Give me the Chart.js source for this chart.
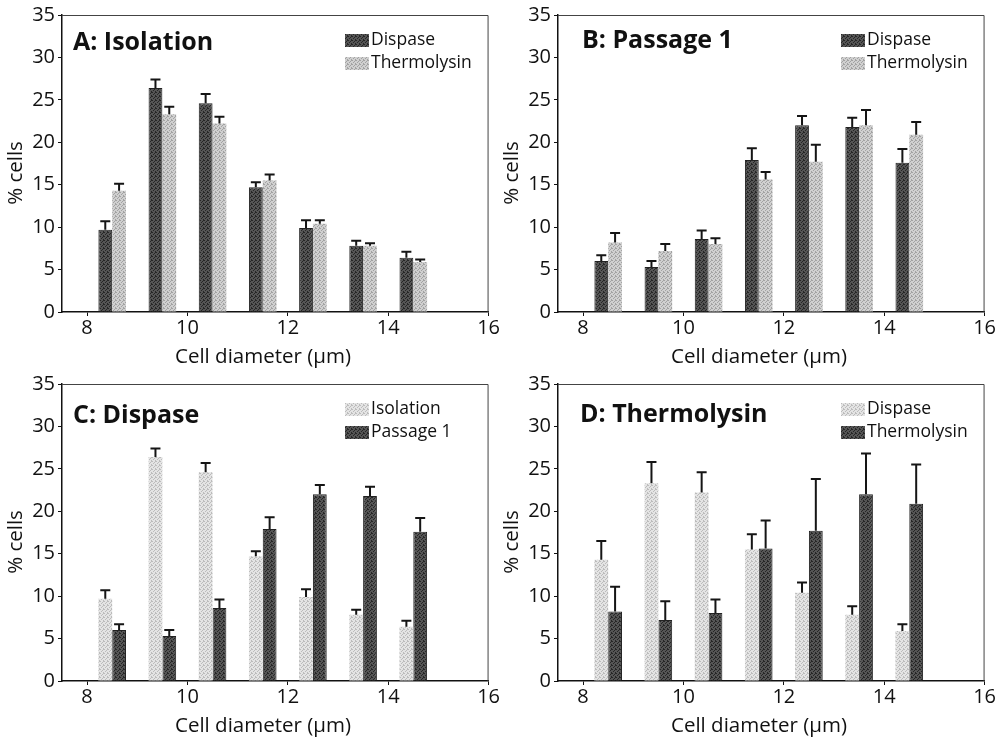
<!DOCTYPE html>
<html>
<head>
<meta charset="utf-8">
<script src="https://cdn.jsdelivr.net/npm/chart.js@4.4.1/dist/chart.umd.min.js"></script>
<style>
  html, body { margin: 0; padding: 0; background: #fff; }
  #wrap { position: relative; width: 1002px; height: 743px; overflow: hidden; }
  canvas { position: absolute; }
</style>
</head>
<body>
<div id="wrap">
  <canvas id="chartA" width="500" height="370" style="left:0;top:0"></canvas>
  <canvas id="chartB" width="500" height="370" style="left:496px;top:0"></canvas>
  <canvas id="chartC" width="500" height="370" style="left:0;top:369px"></canvas>
  <canvas id="chartD" width="500" height="370" style="left:496px;top:369px"></canvas>
</div>
<script>
// bin centres of the cell diameter histogram (µm)
const binCenters = [8.5, 9.5, 10.5, 11.5, 12.5, 13.5, 14.5];
const xTicks = [8, 10, 12, 14, 16];
const yTicks = [0, 5, 10, 15, 20, 25, 30, 35];

// % cells
const isolationDispase = [9.7, 26.4, 24.6, 14.7, 9.9, 7.8, 6.4];
const isolationDispaseErr = [1.0, 1.0, 1.1, 0.6, 0.9, 0.6, 0.7];
const isolationThermo = [14.3, 23.3, 22.2, 15.5, 10.4, 7.8, 5.9];
const isolationThermoErr = [0.8, 0.9, 0.8, 0.7, 0.4, 0.3, 0.3];
const passageDispase = [6.0, 5.3, 8.6, 17.9, 22.0, 21.8, 17.6];
const passageDispaseErr = [0.7, 0.7, 1.0, 1.4, 1.1, 1.1, 1.6];
const passageThermo = [8.2, 7.2, 8.0, 15.6, 17.7, 22.0, 20.9];
const passageThermoErr = [1.1, 0.8, 0.7, 0.9, 2.0, 1.8, 1.5];
// panel D uses larger error bars for the same thermolysin values
const thermoIsolationErrD = [2.2, 2.5, 2.4, 1.8, 1.2, 1.0, 0.8];
const thermoPassageErrD = [2.9, 2.2, 1.6, 3.3, 6.1, 4.8, 4.6];

const xTitle = 'Cell diameter (µm)';
const yTitle = '% cells';

const FONT = '"Open Sans", "DejaVu Sans", sans-serif';
const INK = '#111';

function stipple(base, dot) {
  const c = document.createElement('canvas');
  c.width = 4; c.height = 4;
  const g = c.getContext('2d');
  g.fillStyle = base;
  g.fillRect(0, 0, 4, 4);
  g.fillStyle = dot;
  [[0, 0], [2, 1], [1, 2], [3, 3], [3, 0]].forEach(([x, y]) => g.fillRect(x, y, 1, 1));
  return g.createPattern(c, 'repeat');
}

const dark = stipple('#555555', '#262626');
const light = stipple('#d0d0d0', '#a2a2a2');
const pale = stipple('#e4e4e4', '#bcbcbc');

const points = vals => binCenters.map((x, i) => ({ x, y: vals[i] }));

// draws only the upper half of each error bar, with a cap
const errorBars = {
  id: 'errorBars',
  afterDatasetsDraw(chart) {
    const { ctx } = chart;
    const yScale = chart.scales.y;
    ctx.save();
    ctx.strokeStyle = '#151515';
    ctx.lineWidth = 2;
    chart.data.datasets.forEach((ds, di) => {
      chart.getDatasetMeta(di).data.forEach((bar, i) => {
        const top = yScale.getPixelForValue(ds.data[i].y + ds.errors[i]);
        ctx.beginPath();
        ctx.moveTo(bar.x, bar.y);
        ctx.lineTo(bar.x, top);
        ctx.moveTo(bar.x - 5, top);
        ctx.lineTo(bar.x + 5, top);
        ctx.stroke();
      });
    });
    ctx.restore();
  }
};

// thin box round the plot, axis titles, panel label and legend inside the plot
const panelDecor = {
  id: 'panelDecor',
  beforeDatasetsDraw(chart) {
    const { ctx, chartArea: a } = chart;
    ctx.save();
    ctx.strokeStyle = '#444';
    ctx.lineWidth = 1;
    ctx.beginPath();
    ctx.moveTo(a.left, a.top + 0.5);
    ctx.lineTo(a.right - 0.5, a.top + 0.5);
    ctx.lineTo(a.right - 0.5, a.bottom);
    ctx.stroke();
    ctx.restore();
  },
  afterDraw(chart, args, opts) {
    const { ctx, chartArea: a } = chart;
    ctx.save();
    ctx.fillStyle = INK;

    // axis titles, a little off-centre as in the original figure
    ctx.font = '20.5px ' + FONT;
    ctx.textAlign = 'center';
    ctx.textBaseline = 'alphabetic';
    ctx.fillText(xTitle, a.left + 201, a.bottom + 51);
    ctx.save();
    ctx.translate(22, a.top + 158);
    ctx.rotate(-Math.PI / 2);
    ctx.fillText(yTitle, 0, 0);
    ctx.restore();

    ctx.textAlign = 'left';
    ctx.font = 'bold 25px ' + FONT;
    ctx.fillText(opts.text, a.left + opts.titleX, a.top + opts.titleY);
    ctx.font = '17.5px ' + FONT;
    ctx.textBaseline = 'middle';
    chart.data.datasets.forEach((ds, i) => {
      const sx = a.left + 283;
      const sy = a.top + 19 + i * 23;
      ctx.fillStyle = ds.backgroundColor;
      ctx.fillRect(sx, sy, 24, 13);
      ctx.fillStyle = INK;
      ctx.fillText(ds.label, sx + 26, sy + 6);
    });
    ctx.restore();
  }
};

function makePanel(id, label, titleX, titleY, series) {
  new Chart(document.getElementById(id), {
    type: 'bar',
    data: {
      datasets: series.map(s => ({
        label: s.label,
        data: points(s.values),
        errors: s.errors,
        backgroundColor: s.fill,
        borderColor: '#222',
        borderWidth: s.fill === dark ? 1 : 0,
        barPercentage: 1,
        categoryPercentage: 0.55
      }))
    },
    options: {
      responsive: false,
      devicePixelRatio: 1,
      animation: false,
      layout: { padding: { top: 14, right: 11, left: 0, bottom: 0 } },
      plugins: {
        legend: { display: false },
        tooltip: { enabled: false },
        panelDecor: { text: label, titleX, titleY }
      },
      scales: {
        x: {
          type: 'linear',
          offset: false,
          min: 7.5,
          max: 16,
          afterBuildTicks: s => { s.ticks = xTicks.map(v => ({ value: v })); },
          afterFit: s => { s.height = 58; },
          grid: { offset: false, drawOnChartArea: false, tickLength: 4, color: INK },
          border: { color: INK, width: 1.5 },
          ticks: { color: INK, font: { family: FONT, size: 20 }, padding: 0, maxRotation: 0 }
        },
        y: {
          min: 0,
          max: 35,
          afterBuildTicks: s => { s.ticks = yTicks.map(v => ({ value: v })); },
          afterFit: s => { s.width = 62; },
          grid: { drawOnChartArea: false, tickLength: 4, color: INK },
          border: { color: INK, width: 1.5 },
          ticks: { color: INK, font: { family: FONT, size: 20 }, padding: 3 }
        }
      }
    },
    plugins: [panelDecor, errorBars]
  });
}

makePanel('chartA', 'A: Isolation', 11, 35, [
  { label: 'Dispase', values: isolationDispase, errors: isolationDispaseErr, fill: dark },
  { label: 'Thermolysin', values: isolationThermo, errors: isolationThermoErr, fill: light }
]);
makePanel('chartB', 'B: Passage 1', 24, 33, [
  { label: 'Dispase', values: passageDispase, errors: passageDispaseErr, fill: dark },
  { label: 'Thermolysin', values: passageThermo, errors: passageThermoErr, fill: light }
]);
makePanel('chartC', 'C: Dispase', 11, 39, [
  { label: 'Isolation', values: isolationDispase, errors: isolationDispaseErr, fill: pale },
  { label: 'Passage 1', values: passageDispase, errors: passageDispaseErr, fill: dark }
]);
makePanel('chartD', 'D: Thermolysin', 22, 38, [
  { label: 'Dispase', values: isolationThermo, errors: thermoIsolationErrD, fill: pale },
  { label: 'Thermolysin', values: passageThermo, errors: thermoPassageErrD, fill: dark }
]);
</script>
</body>
</html>
